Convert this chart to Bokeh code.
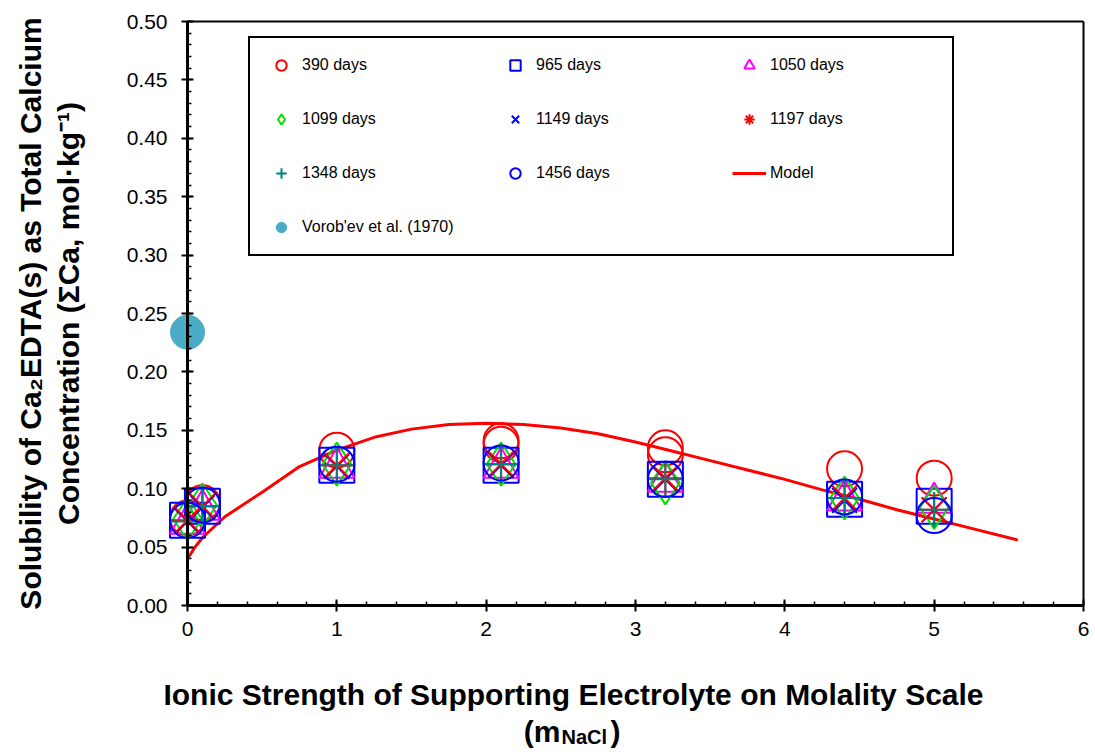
from bokeh.plotting import figure
from bokeh.models import (Range1d, Legend, LegendItem, Label, FixedTicker,
                          NumeralTickFormatter, LinearAxis)
from bokeh.embed import file_html
from bokeh.resources import INLINE

# ---------------- data ----------------
x_main = [0.0, 0.1, 1.0, 2.1, 3.2, 4.4, 5.0]

x_390 = [0.0, 0.1, 1.0, 2.1, 2.1, 3.2, 3.2, 4.4, 5.0]
y_390 = [0.075, 0.088, 0.133, 0.141, 0.138, 0.135, 0.129, 0.117, 0.109]

y_965 = [0.073, 0.085, 0.120, 0.120, 0.108, 0.091, 0.085]
y_1050 = [0.070, 0.082, 0.118, 0.118, 0.106, 0.090, 0.088]
y_1099 = [0.074, 0.086, 0.121, 0.121, 0.105, 0.092, 0.084]
y_1149 = [0.072, 0.084, 0.119, 0.120, 0.108, 0.090, 0.082]
y_1197 = [0.073, 0.085, 0.120, 0.121, 0.109, 0.092, 0.082]
y_1348 = [0.072, 0.085, 0.120, 0.121, 0.108, 0.092, 0.082]
y_1456 = [0.073, 0.086, 0.121, 0.122, 0.108, 0.093, 0.077]

x_vorob = [0.0]
y_vorob = [0.234]

x_model = [0.0, 0.05, 0.1, 0.25, 0.5, 0.75, 1.0, 1.25, 1.5, 1.75, 2.0, 2.25, 2.5,
           2.75, 3.0, 3.25, 3.5, 3.75, 4.0, 4.25, 4.5, 4.75, 5.0, 5.25, 5.56]
y_model = [0.040, 0.050, 0.058, 0.076, 0.097, 0.119, 0.133, 0.144, 0.151, 0.155,
           0.156, 0.155, 0.152, 0.147, 0.140, 0.132, 0.124, 0.116, 0.108, 0.099,
           0.091, 0.082, 0.074, 0.066, 0.056]

x_ticks = [0, 1, 2, 3, 4, 5, 6]
y_ticks = [0.0, 0.05, 0.10, 0.15, 0.20, 0.25, 0.30, 0.35, 0.40, 0.45, 0.50]

FONT = "Liberation Sans"

# ---------------- layout (pixels) ----------------
W, H = 1093, 750
X0_PX = 187          # page x of x = 0
X6_PX = 1083         # page x of x = 6
Y0_PX = 605          # page y of y = 0
TOP_PX = 21          # page y of y = 0.5
ppx = (X6_PX - X0_PX) / 6.0
ppy = (Y0_PX - TOP_PX) / 0.5
x_start = -X0_PX / ppx
x_end = 6 + (W - X6_PX) / ppx
y_start = -(H - Y0_PX) / ppy
y_end = 0.5 + TOP_PX / ppy

p = figure(width=W, height=H, output_backend="svg", toolbar_location=None,
           x_range=Range1d(x_start, x_end), y_range=Range1d(y_start, y_end))
p.min_border_left = 0
p.min_border_bottom = 0
p.min_border_right = 0
p.min_border_top = 0
p.background_fill_color = "white"
p.border_fill_color = "white"
p.outline_line_color = None
p.xgrid.visible = False
p.ygrid.visible = False

xa = p.xaxis[0]
ya = p.yaxis[0]
for ax in (xa, ya):
    ax.axis_line_width = 3
    ax.axis_line_color = "black"
    ax.major_tick_line_width = 2
    ax.major_tick_line_color = "black"
    ax.minor_tick_line_width = 1.5
    ax.minor_tick_line_color = "black"
    ax.major_tick_in = 6
    ax.major_tick_out = 6
    ax.minor_tick_in = 4
    ax.minor_tick_out = 0
    ax.major_label_text_font = FONT
    ax.major_label_text_font_size = "21px"
    ax.major_label_text_color = "black"
    ax.fixed_location = 0

minor_x = [i * 0.2 for i in range(31)]
minor_y = [i * 0.01 for i in range(51)]
xa.ticker = FixedTicker(ticks=x_ticks, minor_ticks=minor_x)
xa.bounds = (0, 6)
xa.major_label_standoff = 10
ya.ticker = FixedTicker(ticks=y_ticks, minor_ticks=minor_y)
ya.bounds = (0, 0.5)
ya.formatter = NumeralTickFormatter(format="0.00")
ya.major_label_standoff = 14
ya.axis_label = ("Solubility of Ca\u2082EDTA(s) as Total Calcium\n"
                 "Concentration (\u03a3Ca, mol\u00b7kg\u207b\u00b9)")
ya.axis_label_text_font = FONT
ya.axis_label_text_font_style = "bold"
ya.axis_label_text_font_size = "30px"
ya.axis_label_text_color = "black"
ya.axis_label_text_line_height = 1.14
ya.axis_label_standoff = 39

# top and right frame borders
top_ax = LinearAxis(ticker=FixedTicker(ticks=[]), bounds=(0, 6), fixed_location=0.5,
                    axis_line_width=2, axis_line_color="black",
                    major_tick_line_color=None, minor_tick_line_color=None)
right_ax = LinearAxis(ticker=FixedTicker(ticks=[]), bounds=(0, 0.5), fixed_location=6,
                      axis_line_width=2, axis_line_color="black",
                      major_tick_line_color=None, minor_tick_line_color=None)
p.add_layout(top_ax, "above")
p.add_layout(right_ax, "right")

# ---------------- glyphs ----------------
S = 35
LW = 2
rmodel = p.line(x_model, y_model, line_color="#FF0000", line_width=3)
r390 = p.scatter(x_390, y_390, marker="circle", size=S, fill_color=None,
                 line_color="#FF0000", line_width=LW)
r965 = p.scatter(x_main, y_965, marker="square", size=S, fill_color=None,
                 line_color="#0000FF", line_width=LW)
r1050 = p.scatter(x_main, y_1050, marker="triangle", size=S, fill_color=None,
                  line_color="#FF00FF", line_width=LW)
r1099 = p.scatter(x_main, y_1099, marker="diamond", size=S + 8, fill_color=None,
                  line_color="#00E000", line_width=LW)
r1149 = p.scatter(x_main, y_1149, marker="x", size=S, fill_color=None,
                  line_color="#0000FF", line_width=LW)
r1197 = p.scatter(x_main, y_1197, marker="asterisk", size=S, fill_color=None,
                  line_color="#FF0000", line_width=LW)
r1348 = p.scatter(x_main, y_1348, marker="cross", size=S, fill_color=None,
                  line_color="#008080", line_width=LW)
r1456 = p.scatter(x_main, y_1456, marker="circle", size=S, fill_color=None,
                  line_color="#0000FF", line_width=LW)
rvor = p.scatter(x_vorob, y_vorob, marker="circle", size=34, fill_color="#4BACC6",
                 line_color="#4BACC6")

items = [
    LegendItem(label="390 days", renderers=[r390]),
    LegendItem(label="965 days", renderers=[r965]),
    LegendItem(label="1050 days", renderers=[r1050]),
    LegendItem(label="1099 days", renderers=[r1099]),
    LegendItem(label="1149 days", renderers=[r1149]),
    LegendItem(label="1197 days", renderers=[r1197]),
    LegendItem(label="1348 days", renderers=[r1348]),
    LegendItem(label="1456 days", renderers=[r1456]),
    LegendItem(label="Model", renderers=[rmodel]),
    LegendItem(label="Vorob'ev et al. (1970)", renderers=[rvor]),
]
legend = Legend(items=items, orientation="horizontal", ncols=3,
                location=(248, H - 256))
legend.label_text_font = FONT
legend.label_text_font_size = "16px"
legend.label_text_color = "black"
legend.glyph_width = 34
legend.glyph_height = 26
legend.label_height = 26
legend.label_width = 168
legend.label_standoff = 4
legend.spacing = 28
legend.padding = 14
legend.margin = 0
legend.border_line_color = "black"
legend.border_line_alpha = 1
legend.border_line_width = 2
legend.background_fill_color = "white"
legend.background_fill_alpha = 1
p.add_layout(legend, "center")

# ---------------- x-axis title ----------------
tcommon = dict(x_units="screen", y_units="screen", text_font=FONT,
               text_font_style="bold", text_color="black",
               text_baseline="alphabetic")
p.add_layout(Label(x=573, y=H - 694,
                   text="Ionic Strength of Supporting Electrolyte on Molality Scale",
                   text_align="center", text_font_size="30px", **tcommon))
p.add_layout(Label(x=560, y=H - 731, text="(m", text_align="right",
                   text_font_size="30px", **tcommon))
p.add_layout(Label(x=561, y=H - 736, text="NaCl", text_align="left",
                   text_font_size="20px", **tcommon))
p.add_layout(Label(x=610, y=H - 731, text=")", text_align="left",
                   text_font_size="30px", **tcommon))

open("out.html", "w").write(file_html(p, INLINE))
